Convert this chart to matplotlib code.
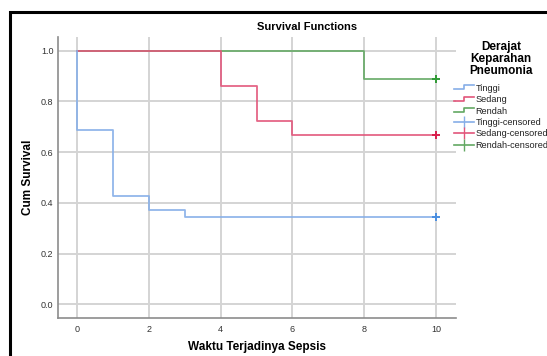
import matplotlib
matplotlib.use('Agg')
from matplotlib import pyplot as plt
from matplotlib.lines import Line2D
from matplotlib.patches import Rectangle
from matplotlib.legend_handler import HandlerBase

plt.rcParams['font.family'] = ['Liberation Sans', 'DejaVu Sans']

# Kaplan-Meier steps
groups = ['Tinggi', 'Sedang', 'Rendah']
tinggi_t = [0, 0, 1, 2, 3, 10]
tinggi_s = [1.0, 0.686, 0.429, 0.371, 0.343, 0.343]
sedang_t = [0, 4, 5, 6, 10]
sedang_s = [1.0, 0.862, 0.724, 0.667, 0.667]
rendah_t = [0, 8, 10]
rendah_s = [1.0, 0.889, 0.889]
censor_t = [10, 10, 10]
censor_s = [0.343, 0.667, 0.889]

line_cols = ['#86aee8', '#e2557a', '#62a862']
mark_cols = ['#4a8ee0', '#d81e4c', '#2f9a35']

W, H = 547, 356
fig = plt.figure(figsize=(W / 100, H / 100), dpi=100)
ax = fig.add_axes([57.5 / W, 1 - 318.3 / H, (455.5 - 57.5) / W, (318.3 - 36.7) / H])

series = [(tinggi_t, tinggi_s), (sedang_t, sedang_s), (rendah_t, rendah_s)]
# green first, red on top, blue last
for i in [2, 1, 0]:
    t, s = series[i]
    ax.step(t, s, where='post', color=line_cols[i], lw=1.3, alpha=0.9, zorder=3)
for i in range(3):
    ax.plot(censor_t[i], censor_s[i], '+', color=mark_cols[i], ms=6, mew=1.4, zorder=4)

ax.set_xlim(-0.54, 10.54)
ax.set_ylim(-0.055, 1.055)
ax.set_xticks([0, 2, 4, 6, 8, 10])
ax.set_yticks([0.0, 0.2, 0.4, 0.6, 0.8, 1.0])
ax.set_yticklabels(['0.0', '0.2', '0.4', '0.6', '0.8', '1.0'])
ax.tick_params(length=0, labelsize=6.5, colors='#333333')
ax.tick_params(axis='x', pad=5)
ax.tick_params(axis='y', pad=3)
ax.grid(True, color='#d4d4d4', lw=1.4, zorder=0)
ax.set_axisbelow(True)
for sp in ['top', 'right']:
    ax.spines[sp].set_visible(False)
for sp in ['left', 'bottom']:
    ax.spines[sp].set_color('#8c8c8c')
    ax.spines[sp].set_linewidth(1.2)

fig.text(307 / W, 1 - 27.5 / H, 'Survival Functions', fontsize=8, fontweight='bold',
         ha='center', va='center')
fig.text(256.5 / W, 1 - 347 / H, 'Waktu Terjadinya Sepsis', fontsize=8.5,
         fontweight='bold', ha='center', va='center')
fig.text(28 / W, 1 - 177.5 / H, 'Cum Survival', fontsize=8.5, fontweight='bold',
         ha='center', va='center', rotation=90)


class StepHandler(HandlerBase):
    def create_artists(self, legend, orig, xd, yd, width, height, fontsize, trans):
        x0, y0 = -xd, -yd
        xs = [x0, x0 + 0.5 * width, x0 + 0.5 * width, x0 + width]
        ys = [y0 + 0.25 * height, y0 + 0.25 * height, y0 + 0.85 * height, y0 + 0.85 * height]
        ln = Line2D(xs, ys, color=orig.get_color(), lw=1.2, transform=trans)
        return [ln]


handles = []
for i in range(3):
    handles.append(Line2D([], [], color=line_cols[i]))
for i in range(3):
    handles.append(Line2D([], [], color=line_cols[i], marker='|', ms=8, mew=1.0,
                          markeredgecolor=line_cols[i], lw=1.2))
labels = groups + [g + '-censored' for g in groups]
leg = fig.legend(handles, labels, loc='upper left', bbox_to_anchor=(454 / W, 1 - 41 / H),
                 frameon=False, fontsize=6.6, handlelength=2.2, handletextpad=0.15,
                 labelspacing=0.26, borderaxespad=0, borderpad=0.0, numpoints=1,
                 title='Derajat\nKeparahan\nPneumonia', alignment='center',
                 title_fontproperties={'weight': 'bold', 'size': 8.5},
                 handler_map={handles[0]: StepHandler(), handles[1]: StepHandler(),
                              handles[2]: StepHandler()})
leg.get_title().set_multialignment('center')
leg.get_title().set_linespacing(1.0)
leg._legend_box.sep = 5
for txt in leg.get_texts():
    txt.set_color('#222222')

# black frame of the cropped output window
fig.patches.append(Rectangle((10 / W, -0.1), 1.2, 1 - 12 / H + 0.1, transform=fig.transFigure,
                             fill=False, edgecolor='black', lw=2.2))

fig.savefig('out.png', dpi=100)
